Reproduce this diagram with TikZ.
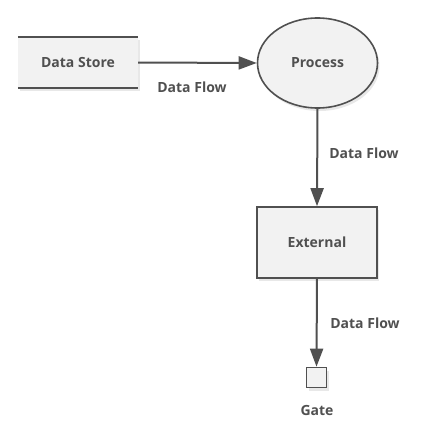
\documentclass[tikz,border=0pt]{standalone}
\usepackage{fontspec}
\setmainfont{Open Sans}
\usetikzlibrary{shapes.geometric,shadows,arrows.meta}
\definecolor{ln}{HTML}{505050}
\definecolor{fl}{HTML}{F2F2F2}
\tikzset{
  x=1pt,y=-1pt,
  every node/.style={font=\bfseries\fontsize{14}{16}\selectfont, text=ln},
  shd/.style={drop shadow={opacity=0.18, shadow xshift=2pt, shadow yshift=-3pt}},
  boxshape/.style={draw=ln, line width=1.6pt, fill=fl, shd},
  flow/.style={draw=ln, line width=2pt, -{Triangle[length=18pt,width=13pt]}},
  lbl/.style={anchor=center}
}
\begin{document}
\begin{tikzpicture}
\useasboundingbox (0,0) rectangle (437,434);
% Data store
\node[fill=fl, shd, minimum width=120pt, minimum height=51pt, inner sep=0pt] (ds) at (78,62.5) {};
\draw[ln, line width=2pt] (ds.north west) -- (ds.north east);
\draw[ln, line width=2pt] (ds.south west) -- (ds.south east);
\node at (ds.center) {Data Store};
% Process
\node[ellipse, boxshape, minimum width=120pt, minimum height=90pt, inner sep=0pt] (pr) at (317.5,63) {Process};
% External
\node[rectangle, boxshape, minimum width=120pt, minimum height=71pt, inner sep=0pt] (ex) at (317,242.5) {External};
% Gate
\node[rectangle, boxshape, minimum width=20pt, minimum height=20pt, inner sep=0pt] (gt) at (316.5,377.5) {};
\node (gtl) at (317,410) {Gate};
% Flows
\draw[flow] (ds.east) -- (pr.west);
\draw[flow] (pr.south) -- (ex.north);
\draw[flow] (ex.south) -- (gt.north);
\node[lbl] (l1) at (192,87) {Data Flow};
\node[lbl] (l2) at (364,153) {Data Flow};
\node[lbl] (l3) at (365,323) {Data Flow};
\end{tikzpicture}
\end{document}
